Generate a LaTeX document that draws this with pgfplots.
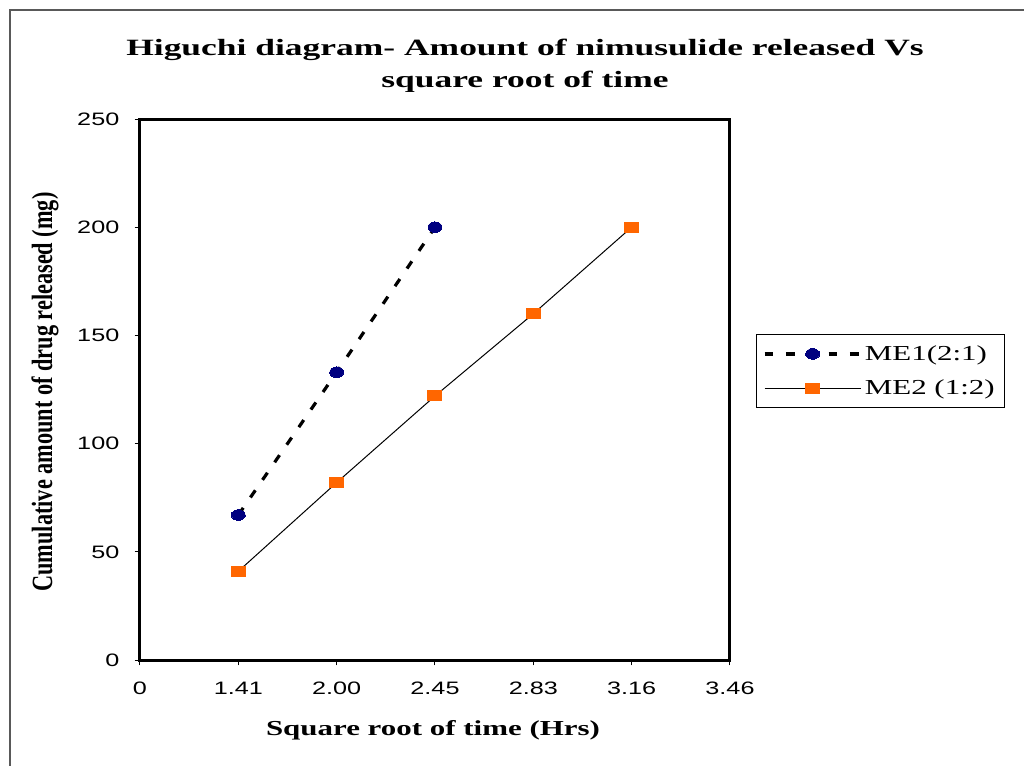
\documentclass[border=0pt]{standalone}
\usepackage{fontspec}
\setmainfont{Liberation Serif}
\newfontfamily\tickfont[FakeStretch=1.4]{Liberation Sans}
\newfontfamily\titlefont[FakeStretch=1.52]{Liberation Serif}
\newfontfamily\xlabfont[FakeStretch=1.45]{Liberation Serif}
\newfontfamily\legfont[FakeStretch=1.45]{Liberation Serif}
\newfontfamily\ylabfont[FakeStretch=0.76]{Liberation Serif}
\usepackage{pgfplots}
\pgfplotsset{compat=1.18}
\definecolor{navy}{HTML}{000080}
\definecolor{orng}{HTML}{FF6600}

\begin{document}
\begin{tikzpicture}[x=0.75pt,y=0.75pt]
\begin{axis}[
    scale only axis,
    width=442.5pt, height=405.75pt,
    xmin=0, xmax=6, ymin=0, ymax=250,
    xtick={0,1,2,3,4,5,6},
    xticklabels={0,1.41,2.00,2.45,2.83,3.16,3.46},
    ytick={0,50,100,150,200,250},
    xtick pos=left, ytick pos=left,
    tick align=outside,
    major tick length=4pt,
    tick style={line width=0.75pt, black},
    axis line style={line width=2.25pt},
    tick label style={font=\tickfont\fontsize{13.5}{15}\selectfont},
    /pgf/number format/assume math mode=true,
    xticklabel style={yshift=-9pt},
    yticklabel style={xshift=-8pt},
    clip=false,
    legend style={at={(axis description cs:1.044,0.603)}, anchor=north west,
        draw=black, line width=0.6pt, font=\legfont\fontsize{16}{18}\selectfont,
        inner xsep=5pt, inner ysep=6.5pt, row sep=9pt, cells={anchor=west}},
    legend image code/.code={\draw[mark repeat=2,mark phase=2,#1]
        plot coordinates {(0pt,0pt) (36pt,0pt) (72pt,0pt)};},
]
\addplot[black, line width=2.4pt, dash pattern=on 6.5pt off 9.5pt,
    mark=*, mark size=4pt, mark options={solid, fill=navy, draw=navy, line width=0pt, xscale=1.3}]
    coordinates {(1,67) (2,133) (3,200)};
\addlegendentry{ME1(2:1)}
\addplot[black, line width=0.75pt,
    mark=square*, mark size=3.75pt, mark options={solid, fill=orng, draw=orng, line width=0pt, xscale=1.4}]
    coordinates {(1,41) (2,82) (3,122) (4,160) (5,200)};
\addlegendentry{ME2 (1:2)}
\end{axis}
\useasboundingbox (-140,-105) rectangle (884,660);
\draw[gray!70!black, line width=1.2pt] (-130,-110) -- (-130,650) -- (890,650);
\node[align=center, font=\titlefont\bfseries\fontsize{17.5}{24}\selectfont] at (385,594)
    {Higuchi diagram- Amount of nimusulide released Vs\\square root of time};
\node[font=\xlabfont\bfseries\fontsize{16}{18}\selectfont] at (293,-70)
    {Square root of time (Hrs)};
\node[rotate=90, font=\ylabfont\bfseries\fontsize{22}{24}\selectfont] at (-95,268)
    {Cumulative amount of drug released (mg)};
\end{tikzpicture}
\end{document}
